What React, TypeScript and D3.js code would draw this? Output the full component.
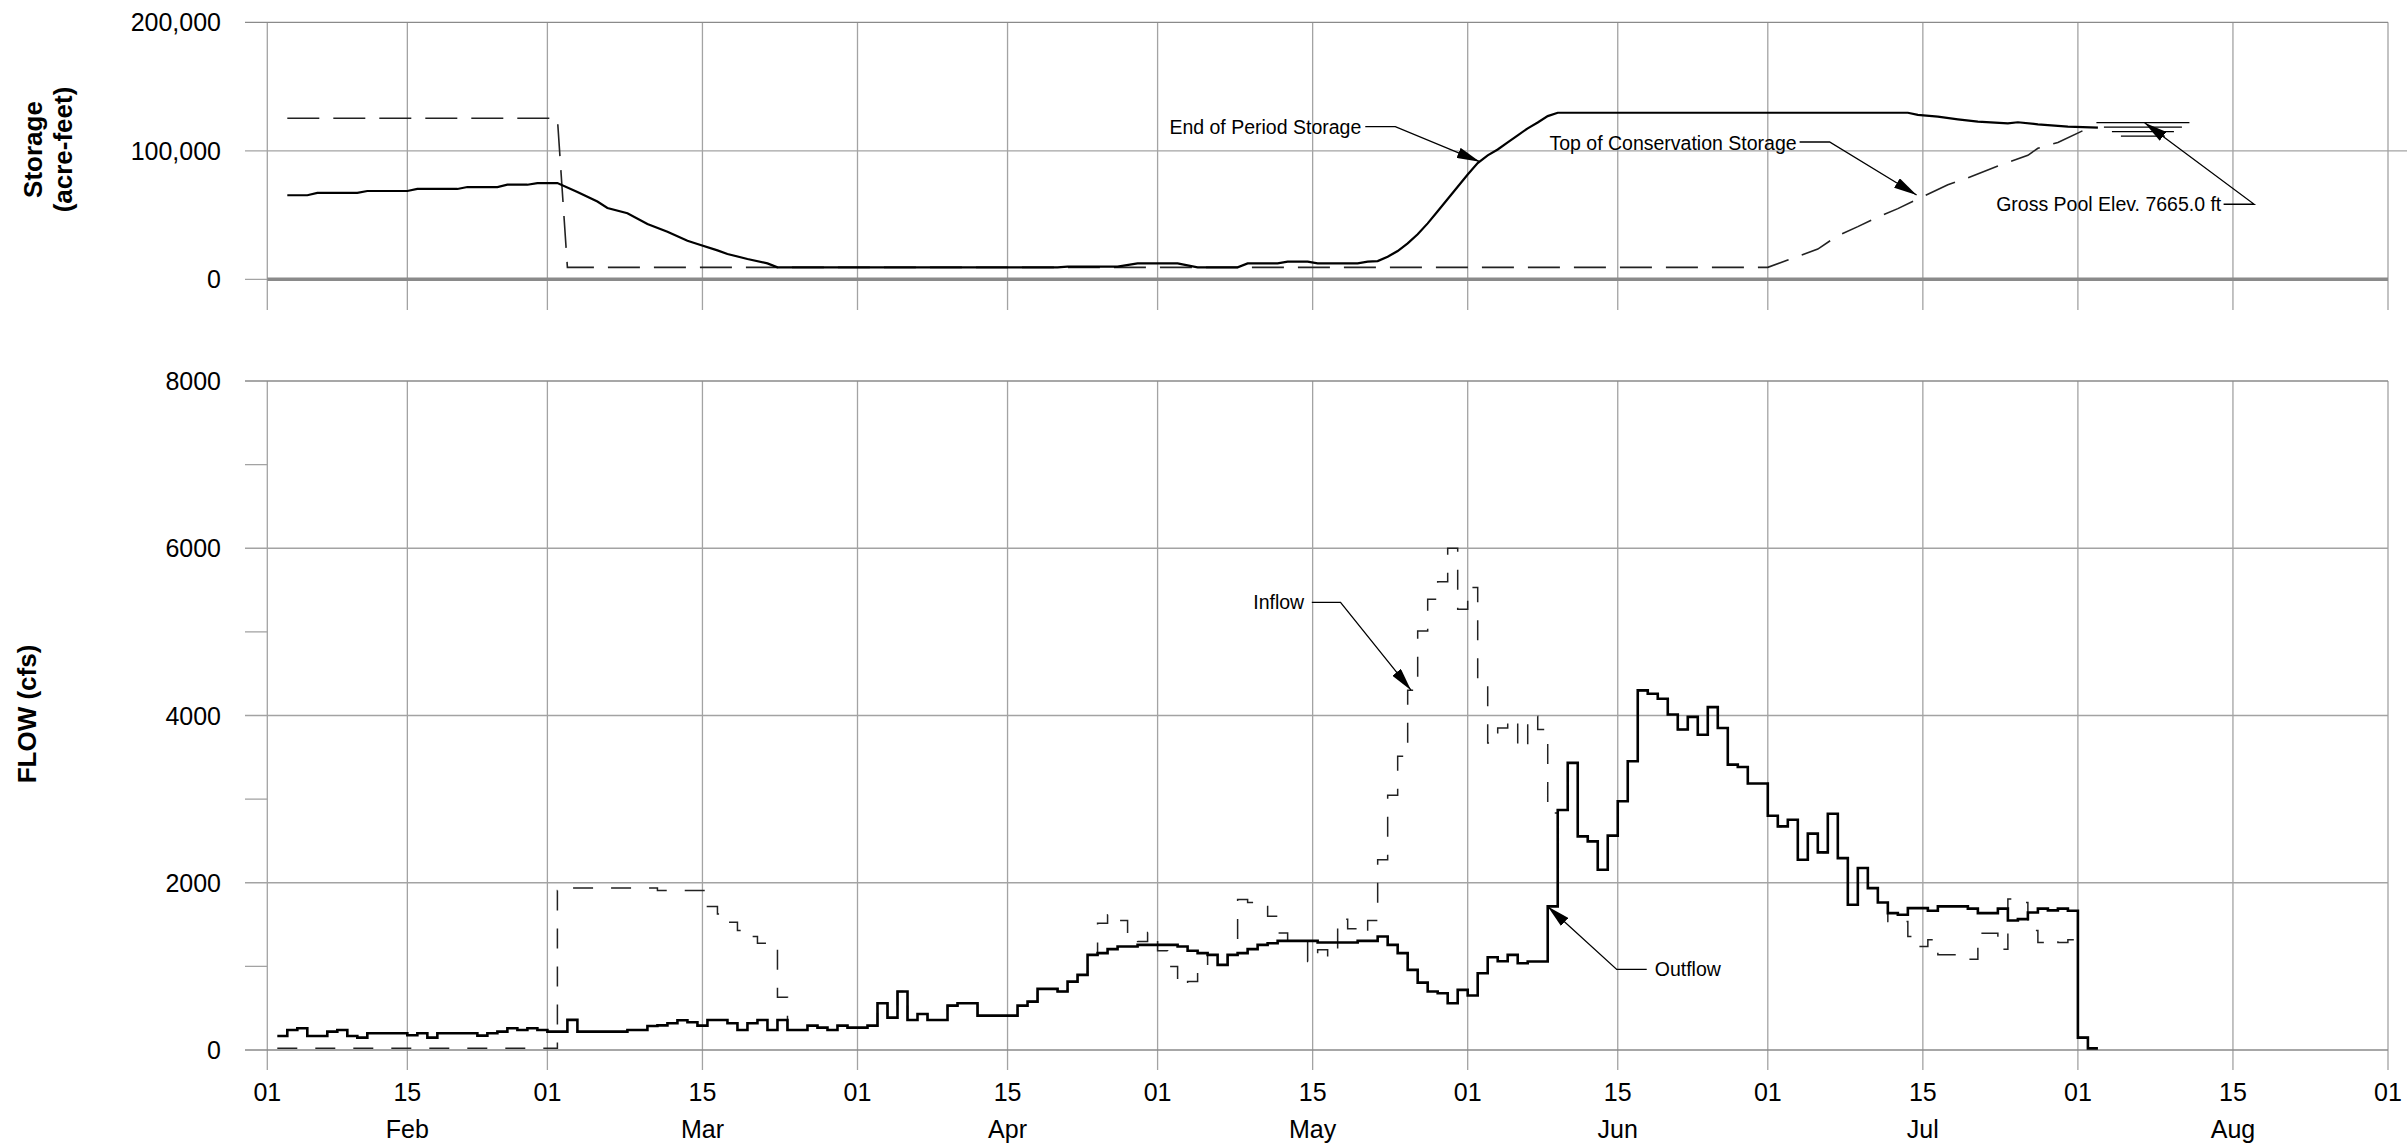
import React from "react";
import * as d3 from "d3";

const W = 2407;
const H = 1146;

// ---------- DATA ----------
const X_START = "2001-02-01";
const X_END = "2001-09-01";
const MONTH_NAMES = ["Feb", "Mar", "Apr", "May", "Jun", "Jul", "Aug"];
const STORAGE_TICKS = [0, 100000, 200000];
const FLOW_MAJOR_TICKS = [0, 2000, 4000, 6000, 8000];
const FLOW_MINOR_TICKS = [1000, 3000, 5000, 7000];

// daily flows (cfs), first value is Feb 2
const FLOW_START = "2001-02-02";
const OUTFLOW_FEB = [168, 240, 260, 168, 168, 220, 240, 168, 148, 200, 200, 200, 200, 176, 200, 148, 200, 200, 200, 200, 172, 200, 220, 260, 240, 260, 240];
const OUTFLOW_MAR = [220, 220, 360, 220, 220, 220, 220, 220, 240, 240, 287, 295, 320, 355, 331, 291, 359, 359, 319, 240, 319, 359, 240, 359, 240, 240, 291, 267, 240, 291, 267];
const OUTFLOW_APR = [267, 291, 559, 387, 699, 359, 431, 359, 359, 531, 559, 559, 411, 411, 411, 411, 531, 579, 731, 731, 699, 818, 898, 1138, 1158, 1206, 1238, 1238, 1257, 1257];
const OUTFLOW_MAY = [1257, 1257, 1238, 1186, 1158, 1138, 1018, 1138, 1158, 1206, 1257, 1277, 1305, 1305, 1305, 1305, 1285, 1285, 1285, 1285, 1305, 1305, 1357, 1257, 1158, 958, 806, 699, 679, 559, 719];
const OUTFLOW_JUN = [651, 918, 1110, 1062, 1138, 1038, 1058, 1058, 1717, 2870, 3433, 2555, 2495, 2156, 2563, 2974, 3453, 4300, 4260, 4200, 4012, 3832, 3984, 3770, 4100, 3850, 3413, 3385, 3186, 3186];
const OUTFLOW_JUL = [2802, 2674, 2754, 2275, 2587, 2363, 2826, 2295, 1737, 2176, 1936, 1764, 1637, 1617, 1697, 1697, 1665, 1717, 1717, 1717, 1690, 1637, 1637, 1690, 1549, 1565, 1645, 1690, 1670, 1690, 1665];
const OUTFLOW_AUG = [148, 20];

const INFLOW_FEB = [20, 20, 20, 20, 20, 20, 20, 20, 20, 20, 20, 20, 20, 20, 20, 20, 20, 20, 20, 20, 20, 20, 20, 20, 20, 20, 20];
const INFLOW_MAR = [20, 1908, 1936, 1936, 1936, 1936, 1936, 1936, 1936, 1936, 1936, 1908, 1908, 1908, 1908, 1908, 1716, 1625, 1529, 1429, 1357, 1277, 1206, 630, 240, 240, 291, 267, 240, 291, 267];
const INFLOW_APR = [267, 291, 559, 387, 699, 359, 431, 359, 359, 531, 559, 559, 411, 411, 411, 411, 531, 579, 731, 731, 699, 818, 898, 1138, 1517, 1617, 1549, 1357, 1297, 1405];
const INFLOW_MAY = [1186, 1000, 778, 818, 938, 1138, 1018, 1138, 1800, 1765, 1728, 1600, 1400, 1305, 1305, 1058, 1198, 1118, 1565, 1450, 1397, 1550, 2275, 3046, 3513, 4303, 5010, 5390, 5600, 6000, 5270];
const INFLOW_JUN = [5530, 4443, 3672, 3852, 3952, 3613, 3992, 3832, 2834, 2870, 3433, 2555, 2495, 2156, 2563, 2974, 3453, 4300, 4260, 4200, 4012, 3832, 3984, 3770, 4100, 3850, 3413, 3385, 3186, 3186];
const INFLOW_JUL = [2802, 2674, 2754, 2275, 2587, 2363, 2826, 2295, 1737, 2176, 1936, 1764, 1537, 1537, 1357, 1237, 1317, 1138, 1138, 1086, 1086, 1397, 1397, 1206, 1805, 1765, 1429, 1285, 1317, 1285, 1317];
const INFLOW_AUG = [148, 20];

// end of period storage (acre-feet)
const STORAGE_DATES = ["02-03", "02-05", "02-06", "02-10", "02-11", "02-15", "02-16", "02-20", "02-21", "02-24", "02-25", "02-27", "02-28", "03-02", "03-04", "03-06", "03-07", "03-09", "03-11", "03-13", "03-15", "03-16", "03-18", "03-19", "03-21", "03-23", "03-24", "04-21", "04-22", "04-27", "04-29", "05-03", "05-05", "05-09", "05-10", "05-13", "05-14", "05-16", "05-17", "05-21", "05-22", "05-23", "05-24", "05-25", "05-26", "05-27", "05-28", "05-29", "05-30", "05-31", "06-01", "06-02", "06-03", "06-04", "06-05", "06-06", "06-07", "06-08", "06-09", "06-10", "07-15", "07-16", "07-18", "07-20", "07-22", "07-25", "07-26", "07-28", "07-31", "08-03"];
const STORAGE_VALUES = [65400, 65400, 67200, 67200, 68700, 68700, 70300, 70300, 71800, 71800, 73600, 73600, 74900, 74900, 68000, 60500, 55500, 51400, 43000, 37000, 30000, 27500, 22500, 19700, 15800, 12400, 9300, 9300, 9800, 9800, 12400, 12400, 9300, 9300, 12400, 12400, 13700, 13700, 12400, 12400, 13700, 14200, 17500, 22000, 28000, 35000, 43500, 53000, 62500, 72000, 81500, 90500, 96500, 101000, 106500, 112000, 117500, 122000, 127000, 129600, 129600, 127900, 126600, 124500, 122700, 121400, 122200, 120600, 118800, 118000];

// top of conservation storage (acre-feet)
const CONSERVATION_DATES = ["02-03", "03-02", "03-03", "07-01", "07-03", "07-06", "07-08", "07-10", "07-12", "07-14", "07-16", "07-19", "07-21", "07-24", "07-27", "07-28", "07-30", "08-02"];
const CONSERVATION_VALUES = [125300, 125300, 9300, 9300, 15000, 23500, 34000, 41000, 48500, 55000, 62500, 73500, 79000, 88200, 96500, 102000, 106500, 117500];

const GROSS_POOL = 121900;
const GROSS_POOL_LABEL = "Gross Pool Elev. 7665.0 ft";

// ---------- HELPERS ----------
const FONT = "'Liberation Sans', Arial, Helvetica, sans-serif";
const DAY = 86400000;
const parse = (s: string) => new Date(s.length === 5 ? `2001-${s}T00:00:00Z` : (s.length === 10 ? `${s}T00:00:00Z` : s));

const OUTFLOW = [...OUTFLOW_FEB, ...OUTFLOW_MAR, ...OUTFLOW_APR, ...OUTFLOW_MAY, ...OUTFLOW_JUN, ...OUTFLOW_JUL, ...OUTFLOW_AUG];
const INFLOW = [...INFLOW_FEB, ...INFLOW_MAR, ...INFLOW_APR, ...INFLOW_MAY, ...INFLOW_JUN, ...INFLOW_JUL, ...INFLOW_AUG];

function stepSeries(values: number[]): [Date, number][] {
  const t0 = parse(FLOW_START).getTime();
  const pts: [Date, number][] = values.map((v, i) => [new Date(t0 + i * DAY), v]);
  pts.push([new Date(t0 + values.length * DAY), values[values.length - 1]]);
  return pts;
}

export default function App() {
  const x = d3.scaleUtc().domain([parse(X_START), parse(X_END)]).range([267.3, 2388]);
  const yS = d3.scaleLinear().domain([0, 200000]).range([279.3, 22.3]);
  const yF = d3.scaleLinear().domain([0, 8000]).range([1050, 381]);

  const monthStarts = d3.utcMonth.range(parse(X_START), new Date(parse(X_END).getTime() + DAY));
  const mids = monthStarts.slice(0, -1).map((m, i) => new Date((m.getTime() + monthStarts[i + 1].getTime()) / 2));
  const xTicks = [
    ...monthStarts.map((d) => ({ d, label: "01" })),
    ...mids.map((d) => ({ d, label: "15" })),
  ];

  const fmt = d3.format(",");
  const left = x.range()[0];
  const right = x.range()[1];

  const storageLine = d3
    .line<[Date, number]>()
    .x((d) => x(d[0]))
    .y((d) => yS(d[1]));
  const storagePts: [Date, number][] = STORAGE_DATES.map((s, i) => [parse(s), STORAGE_VALUES[i]]);
  const consPts: [Date, number][] = CONSERVATION_DATES.map((s, i) => [parse(s), CONSERVATION_VALUES[i]]);

  const flowLine = d3
    .line<[Date, number]>()
    .x((d) => x(d[0]))
    .y((d) => yF(d[1]))
    .curve(d3.curveStepAfter);

  const grid = "#a3a3a3";
  const axisGray = "#8a8a8a";

  // annotations: tip given in data coordinates, label geometry relative to tip
  const annotations = [
    { text: "End of Period Storage", tip: [x(parse("2001-06-02T05:00:00Z")), yS(91500)], elbow: [-84.5, -35], lineEnd: [-114.5, -35], textPos: [-118.5, -35], anchor: "end" },
    { text: "Top of Conservation Storage", tip: [x(parse("2001-07-15T21:00:00Z")), yS(65600)], elbow: [-87, -53], lineEnd: [-117, -53], textPos: [-120, -52], anchor: "end" },
    { text: GROSS_POOL_LABEL, tip: [x(parse("2001-08-07T16:00:00Z")), yS(GROSS_POOL)], elbow: [109.6, 81.6], lineEnd: [79, 81.6], textPos: [76.7, 81.6], anchor: "end" },
    { text: "Inflow", tip: [x(parse("2001-05-26T08:00:00Z")), yF(4303)], elbow: [-70.5, -87.7], lineEnd: [-99.2, -87.7], textPos: [-106.8, -87.7], anchor: "end" },
    { text: "Outflow", tip: [x(parse("2001-06-09T00:00:00Z")), yF(1717)], elbow: [69, 63], lineEnd: [99, 63], textPos: [107, 63], anchor: "start" },
  ];

  const gpX = x(parse("2001-08-07T12:00:00Z"));
  const gpY = yS(GROSS_POOL);
  const gpLines = [
    { dy: 0, hw: 46.5 },
    { dy: 4.5, hw: 39 },
    { dy: 9, hw: 31 },
    { dy: 13.5, hw: 22 },
  ];

  return (
    <svg
      width={W}
      height={H}
      viewBox={`0 0 ${W} ${H}`}
      style={{ position: "absolute", left: 0, top: 0, background: "#fff" }}
      fontFamily={FONT}
    >
      <defs>
        <marker id="arrow" viewBox="0 0 23 11" refX="23" refY="5.5" markerWidth="23" markerHeight="11" markerUnits="userSpaceOnUse" orient="auto">
          <path d="M0,0 L23,5.5 L0,11 z" fill="#000" />
        </marker>
      </defs>
      <rect x={0} y={0} width={W} height={H} fill="#fff" />

      {/* ---------- STORAGE PANEL ---------- */}
      {xTicks.map((t, i) => (
        <line key={"sv" + i} x1={x(t.d)} x2={x(t.d)} y1={yS(200000)} y2={310} stroke={grid} strokeWidth={1.3} />
      ))}
      {STORAGE_TICKS.map((v) => (
        <g key={"sh" + v}>
          <line x1={245} x2={v === 100000 ? W : right} y1={yS(v)} y2={yS(v)} stroke={v === 200000 ? axisGray : grid} strokeWidth={1.3} />
          <text x={221} y={yS(v)} dy="0.36em" textAnchor="end" fontSize={25} fill="#000">
            {fmt(v)}
          </text>
        </g>
      ))}
      <line x1={left} x2={right} y1={yS(0)} y2={yS(0)} stroke={axisGray} strokeWidth={3.5} />
      <text transform={`translate(32.5,149.5) rotate(-90)`} textAnchor="middle" dy="0.35em" fontSize={26} fontWeight="bold">
        Storage
      </text>
      <text transform={`translate(63,149.5) rotate(-90)`} textAnchor="middle" dy="0.35em" fontSize={26} fontWeight="bold">
        (acre-feet)
      </text>

      <path d={storageLine(consPts) || ""} fill="none" stroke="#222" strokeWidth={1.6} strokeDasharray="32,14" />
      <path d={storageLine(storagePts) || ""} fill="none" stroke="#000" strokeWidth={2.2} />

      {gpLines.map((g, i) => (
        <line key={"gp" + i} x1={gpX - g.hw} x2={gpX + g.hw} y1={gpY + g.dy} y2={gpY + g.dy} stroke="#000" strokeWidth={1.4} />
      ))}

      {/* ---------- FLOW PANEL ---------- */}
      {xTicks.map((t, i) => (
        <line key={"fv" + i} x1={x(t.d)} x2={x(t.d)} y1={yF(8000)} y2={1070} stroke={grid} strokeWidth={1.3} />
      ))}
      {FLOW_MAJOR_TICKS.map((v) => (
        <g key={"fh" + v}>
          <line x1={245} x2={right} y1={yF(v)} y2={yF(v)} stroke={v === 8000 || v === 0 ? axisGray : grid} strokeWidth={1.4} />
          <text x={221} y={yF(v)} dy="0.36em" textAnchor="end" fontSize={25} fill="#000">
            {v}
          </text>
        </g>
      ))}
      {FLOW_MINOR_TICKS.map((v) => (
        <line key={"fm" + v} x1={245} x2={left} y1={yF(v)} y2={yF(v)} stroke={grid} strokeWidth={1.3} />
      ))}
      <text transform={`translate(27,714) rotate(-90)`} textAnchor="middle" dy="0.35em" fontSize={26} fontWeight="bold">
        FLOW (cfs)
      </text>

      <path d={flowLine(stepSeries(INFLOW)) || ""} fill="none" stroke="#222" strokeWidth={1.5} strokeDasharray="20,18" />
      <path d={flowLine(stepSeries(OUTFLOW)) || ""} fill="none" stroke="#000" strokeWidth={2.6} />

      {/* x tick labels */}
      {xTicks.map((t, i) => (
        <text key={"xl" + i} x={x(t.d)} y={1092} dy="0.36em" textAnchor="middle" fontSize={25}>
          {t.label}
        </text>
      ))}
      {mids.map((d, i) => (
        <text key={"ml" + i} x={x(d)} y={1128.5} dy="0.36em" textAnchor="middle" fontSize={25}>
          {MONTH_NAMES[i]}
        </text>
      ))}

      {/* annotations */}
      {annotations.map((a, i) => {
        const [tx, ty] = a.tip;
        const pts = [
          [tx + a.lineEnd[0], ty + a.lineEnd[1]],
          [tx + a.elbow[0], ty + a.elbow[1]],
          [tx, ty],
        ];
        return (
          <g key={"an" + i}>
            <polyline points={pts.map((p) => p.join(",")).join(" ")} fill="none" stroke="#000" strokeWidth={1.3} markerEnd="url(#arrow)" />
            <text x={tx + a.textPos[0]} y={ty + a.textPos[1]} dy="0.36em" textAnchor={a.anchor as any} fontSize={19.5}>
              {a.text}
            </text>
          </g>
        );
      })}
    </svg>
  );
}
